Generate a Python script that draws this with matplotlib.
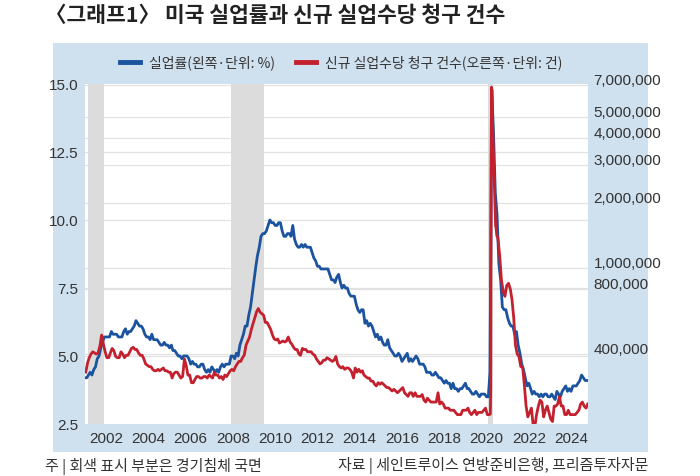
import pandas as pd
import matplotlib.pyplot as plt
import matplotlib.dates as mdates
import matplotlib.transforms as mtrans
from matplotlib.patches import Rectangle
from matplotlib.ticker import FixedLocator, FuncFormatter, NullLocator

plt.rcParams['font.family'] = ['Noto Sans CJK KR', 'DejaVu Sans']
NUM_FONT = ['Liberation Sans Narrow', 'Liberation Sans', 'DejaVu Sans']

# 미국 실업률 (월별, %), 2001.01 ~ 2024.10
unrate = [
    4.2, 4.2, 4.3, 4.4, 4.3, 4.5, 4.6, 4.9, 5.0, 5.3, 5.5, 5.7,
    5.7, 5.7, 5.7, 5.9, 5.8, 5.8, 5.8, 5.7, 5.7, 5.7, 5.9, 6.0,
    5.8, 5.9, 5.9, 6.0, 6.1, 6.3, 6.2, 6.1, 6.1, 6.0, 5.8, 5.7,
    5.7, 5.6, 5.8, 5.6, 5.6, 5.6, 5.5, 5.4, 5.4, 5.5, 5.4, 5.4,
    5.3, 5.4, 5.2, 5.2, 5.1, 5.0, 5.0, 4.9, 5.0, 5.0, 5.0, 4.9,
    4.7, 4.8, 4.7, 4.7, 4.6, 4.6, 4.7, 4.7, 4.5, 4.4, 4.5, 4.4,
    4.6, 4.5, 4.4, 4.5, 4.4, 4.6, 4.7, 4.6, 4.7, 4.7, 4.7, 5.0,
    5.0, 4.9, 5.1, 5.0, 5.4, 5.6, 5.8, 6.1, 6.1, 6.5, 6.8, 7.3,
    7.8, 8.3, 8.7, 9.0, 9.4, 9.5, 9.5, 9.6, 9.8, 10.0, 9.9, 9.9,
    9.8, 9.8, 9.9, 9.9, 9.6, 9.4, 9.4, 9.5, 9.5, 9.4, 9.8, 9.3,
    9.1, 9.0, 9.0, 9.1, 9.0, 9.1, 9.0, 9.0, 9.0, 8.8, 8.6, 8.5,
    8.3, 8.3, 8.2, 8.2, 8.2, 8.2, 8.2, 8.0, 7.8, 7.8, 7.7, 7.9,
    8.0, 7.7, 7.5, 7.6, 7.5, 7.5, 7.3, 7.2, 7.2, 7.2, 6.9, 6.7,
    6.6, 6.7, 6.7, 6.2, 6.3, 6.1, 6.2, 6.1, 5.9, 5.7, 5.8, 5.6,
    5.7, 5.5, 5.4, 5.4, 5.6, 5.3, 5.2, 5.1, 5.0, 5.0, 5.1, 5.0,
    4.8, 4.9, 5.0, 5.1, 4.8, 4.9, 4.8, 4.9, 5.0, 4.9, 4.7, 4.7,
    4.7, 4.6, 4.4, 4.4, 4.4, 4.3, 4.3, 4.4, 4.3, 4.2, 4.2, 4.1,
    4.0, 4.1, 4.0, 4.0, 3.8, 4.0, 3.8, 3.8, 3.7, 3.8, 3.8, 3.9,
    4.0, 3.8, 3.8, 3.7, 3.6, 3.6, 3.7, 3.6, 3.5, 3.6, 3.6, 3.6,
    3.5, 3.5, 4.4, 14.8, 13.2, 11.0, 10.2, 8.4, 7.8, 6.8, 6.7, 6.7,
    6.4, 6.2, 6.1, 6.1, 5.8, 5.9, 5.4, 5.1, 4.7, 4.5, 4.2, 3.9,
    4.0, 3.8, 3.6, 3.7, 3.6, 3.6, 3.5, 3.6, 3.5, 3.6, 3.6, 3.5,
    3.5, 3.6, 3.5, 3.4, 3.7, 3.6, 3.5, 3.7, 3.8, 3.9, 3.7, 3.8,
    3.7, 3.9, 3.9, 3.9, 4.0, 4.1, 4.3, 4.2, 4.1, 4.1,
]

# 신규 실업수당 청구 건수 (월평균, 천 건), 2001.01 ~ 2024.10
claims_k = [
    330, 365, 385, 400, 410, 405, 400, 405, 435, 490, 445, 410,
    385, 385, 405, 425, 415, 390, 385, 385, 410, 400, 385, 395,
    395, 410, 425, 430, 420, 420, 405, 395, 395, 380, 360, 355,
    350, 350, 340, 335, 335, 340, 335, 340, 345, 335, 335, 330,
    330, 310, 325, 330, 330, 320, 310, 315, 380, 355, 320, 320,
    295, 295, 305, 315, 315, 310, 310, 315, 315, 310, 320, 315,
    310, 330, 320, 320, 310, 315, 305, 320, 315, 325, 335, 340,
    335, 350, 360, 370, 370, 385, 395, 440, 460, 480, 520, 555,
    590, 630, 650, 625, 615, 605, 560, 560, 540, 520, 490, 470,
    465, 470, 450, 455, 460, 455, 460, 480, 455, 445, 430, 420,
    420, 400, 395, 425, 420, 420, 410, 410, 410, 400, 395, 380,
    370, 360, 365, 375, 375, 385, 380, 375, 370, 375, 390, 360,
    350, 345, 350, 340, 345, 345, 340, 330, 310, 345, 330, 340,
    330, 335, 320, 315, 310, 310, 300, 300, 290, 285, 295, 290,
    295, 290, 285, 280, 280, 275, 270, 275, 270, 265, 270, 275,
    280, 265, 260, 255, 265, 265, 255, 265, 255, 255, 255, 260,
    245, 240, 250, 245, 240, 240, 240, 240, 265, 235, 240, 235,
    225, 225, 225, 220, 220, 220, 215, 210, 210, 210, 220, 220,
    220, 225, 215, 210, 215, 220, 210, 215, 215, 215, 220, 225,
    210, 210, 2500, 4500, 2400, 1500, 1380, 1150, 880, 780, 740, 830,
    850, 800, 720, 590, 440, 400, 390, 350, 350, 290, 230, 205,
    215, 225, 190, 185, 210, 230, 245, 240, 205, 220, 230, 215,
    200, 195, 230, 230, 235, 255, 230, 230, 210, 210, 220, 210,
    210, 210, 210, 215, 220, 235, 240, 230, 225, 235,
]

# 코로나 충격 구간은 주간 수치 (천 건)
covid_weeks = ['2020-03-07', '2020-03-14', '2020-03-21', '2020-03-28', '2020-04-04',
               '2020-04-11', '2020-04-18', '2020-04-25', '2020-05-02', '2020-05-09',
               '2020-05-16', '2020-05-23', '2020-05-30', '2020-06-06', '2020-06-13',
               '2020-06-20', '2020-06-27']
covid_claims_k = [211, 282, 3307, 6867, 6615, 5237, 4442, 3867, 3176, 2687,
                  2446, 2123, 1897, 1566, 1540, 1482, 1413]

recessions = [('2001-03-01', '2001-11-30'), ('2007-12-01', '2009-06-30'),
              ('2020-02-01', '2020-04-30')]

right_ticks = [400000, 800000, 1000000, 2000000, 3000000, 4000000, 5000000, 7000000]
left_ticks = [2.5, 5.0, 7.5, 10.0, 12.5, 15.0]

months = pd.date_range('2001-01-01', periods=len(unrate), freq='MS')
ur = pd.Series(unrate, index=months)
cl = pd.Series(claims_k, index=months + pd.Timedelta(days=14))
wk = pd.Series(covid_claims_k, index=pd.to_datetime(covid_weeks))
cl = cl[(cl.index < wk.index[0]) | (cl.index > wk.index[-1])]
cl = pd.concat([cl, wk]).sort_index() * 1000

BLUE = '#1b539f'
RED = '#c4212f'
PANEL = '#cfe0ee'
GRID = '#e2e2e2'
TXT = '#333333'

fig = plt.figure(figsize=(7, 4.76), dpi=100)
fig.patches.append(Rectangle((53 / 700, 1 - 452 / 476), 595 / 700, 409 / 476,
                             transform=fig.transFigure, facecolor=PANEL,
                             edgecolor='none', zorder=-5))

ax = fig.add_axes([85 / 700, 52 / 476, 503 / 700, 340 / 476])
ax2 = ax.twinx()
ax.set_facecolor('white')

ax.set_xlim(pd.Timestamp('2001-01-01'), pd.Timestamp('2024-10-20'))
ax.set_ylim(2.5, 15.0)
ax2.set_yscale('log')
ax2.set_ylim(190000, 7100000)

for a, b in recessions:
    ax.axvspan(pd.Timestamp(a), pd.Timestamp(b), color='#dcdcdc', lw=0, zorder=1)

for v in left_ticks[1:-1]:
    ax.axhline(v, color=GRID, lw=0.9, zorder=0.5)
for v in right_ticks:
    ax.plot([0, 1], [v, v], transform=ax2.get_yaxis_transform(),
            color=GRID, lw=0.9, zorder=0.5)

ax.plot(ur.index, ur.values, color=BLUE, lw=2.0, zorder=3)
ax2.plot(cl.index, cl.values, color=RED, lw=2.0, zorder=3)

for a in (ax, ax2):
    for s in a.spines.values():
        s.set_visible(False)
    a.tick_params(length=0, colors=TXT, labelsize=11)

ax.xaxis.set_major_locator(mdates.YearLocator(2))
ax.xaxis.set_major_formatter(mdates.DateFormatter('%Y'))
ax.tick_params(axis='x', pad=6)
ax.set_yticks(left_ticks)
ax.set_yticklabels(['%.1f' % v for v in left_ticks])
ax.tick_params(axis='y', pad=5)

ax2.yaxis.set_major_locator(FixedLocator(right_ticks))
ax2.yaxis.set_minor_locator(NullLocator())
ax2.yaxis.set_major_formatter(FuncFormatter(lambda v, p: '{:,.0f}'.format(v)))
ax2.tick_params(axis='y', pad=4)

for lab in ax.get_xticklabels() + ax.get_yticklabels() + ax2.get_yticklabels():
    lab.set_family(NUM_FONT)
shift = mtrans.ScaledTranslation(0, 4 / 72, fig.dpi_scale_trans)
for lab in ax2.get_yticklabels():
    lab.set_transform(lab.get_transform() + shift)

h1, = ax.plot([], [], color=BLUE, lw=3.5)
h2, = ax.plot([], [], color=RED, lw=3.5)
fig.legend([h1, h2], ['실업률(왼쪽·단위: %)', '신규 실업수당 청구 건수(오른쪽·단위: 건)'],
           loc='center', bbox_to_anchor=(0.487, 0.868), ncol=2, frameon=False,
           fontsize=10, handlelength=1.5, handletextpad=0.6, columnspacing=1.5,
           labelcolor=TXT)

fig.text(45 / 700, 1 - 16 / 476, '〈그래프1〉 미국 실업률과 신규 실업수당 청구 건수',
         fontsize=15.5, fontweight='bold', color='#222222', va='center', ha='left')
fig.text(45 / 700, 1 - 466 / 476, '주 | 회색 표시 부분은 경기침체 국면',
         fontsize=10.8, color=TXT, va='center', ha='left')
fig.text(648 / 700, 1 - 466 / 476, '자료 | 세인트루이스 연방준비은행, 프리즘투자자문',
         fontsize=10.8, color=TXT, va='center', ha='right')

fig.savefig('out.png', dpi=100)
